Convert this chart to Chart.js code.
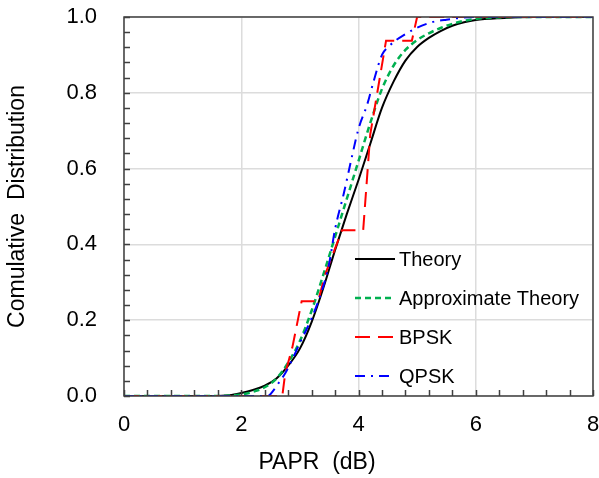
<!DOCTYPE html>
<html>
<head>
<meta charset="utf-8">
<script src="https://cdn.jsdelivr.net/npm/chart.js@4.4.1/dist/chart.umd.min.js"></script>
<style>
  body { margin: 0; background: #fff; }
  canvas { display: block; }
</style>
</head>
<body>
<canvas id="paprChart" width="599" height="478"></canvas>
<script>
// PAPR values in dB and cumulative distribution
const theoryX = [0, 1.5, 1.8, 2.0, 2.2, 2.4, 2.6, 2.8, 3.0, 3.2, 3.4, 3.6, 3.8, 4.0, 4.2, 4.4, 4.6, 4.8, 5.0, 5.2, 5.4, 5.6, 5.8, 6.0, 6.4, 7.0, 8.0];
const theoryY = [0, 0, 0.002, 0.008, 0.016, 0.027, 0.046, 0.08, 0.125, 0.195, 0.285, 0.385, 0.48, 0.57, 0.665, 0.76, 0.83, 0.885, 0.921, 0.945, 0.963, 0.977, 0.986, 0.992, 0.997, 1.0, 1.0];

const approxX = [0, 1.5, 1.8, 2.0, 2.2, 2.4, 2.6, 2.8, 3.0, 3.2, 3.4, 3.6, 3.8, 4.0, 4.2, 4.4, 4.6, 4.8, 5.0, 5.2, 5.4, 5.6, 5.8, 6.0, 6.4, 7.0, 8.0];
const approxY = [0, 0, 0.001, 0.004, 0.011, 0.023, 0.046, 0.088, 0.145, 0.225, 0.32, 0.42, 0.52, 0.62, 0.72, 0.81, 0.872, 0.913, 0.939, 0.957, 0.971, 0.982, 0.99, 0.995, 0.999, 1.0, 1.0];

const bpskX = [0, 2.7, 2.75, 2.87, 3.03, 3.31, 3.43, 3.72, 4.08, 4.2, 4.47, 4.91, 5.0, 8.0];
const bpskY = [0, 0, 0.06, 0.127, 0.25, 0.25, 0.32, 0.4375, 0.4375, 0.69, 0.9375, 0.9375, 1.0, 1.0];

const qpskX = [0, 2.45, 2.55, 2.65, 2.75, 2.85, 3.0, 3.2, 3.4, 3.5, 3.6, 3.75, 3.9, 4.0, 4.15, 4.25, 4.4, 4.5, 4.8, 5.2, 5.5, 6.0, 8.0];
const qpskY = [0, 0, 0.015, 0.037, 0.06, 0.09, 0.14, 0.205, 0.29, 0.35, 0.44, 0.535, 0.64, 0.705, 0.77, 0.826, 0.9, 0.92, 0.955, 0.984, 0.993, 1.0, 1.0];

const seriesNames = ['Theory', 'Approximate Theory', 'BPSK', 'QPSK'];
const xTickValues = [0, 2, 4, 6, 8];
const yTickValues = [0, 0.2, 0.4, 0.6, 0.8, 1.0];

const FONT = '"Liberation Sans", Arial, sans-serif';

function toPoints(xs, ys) {
    return xs.map((x, i) => ({ x: x, y: ys[i] }));
}

// frame, inside minor ticks, legend box inside the plot and the x title
const extras = {
    id: 'extras',
    afterDatasetsDraw(chart) {
        const ctx = chart.ctx;
        const a = chart.chartArea;
        const xs = chart.scales.x;
        const ys = chart.scales.y;
        ctx.save();

        ctx.strokeStyle = '#404040';
        ctx.lineWidth = 1.5;
        ctx.beginPath();
        for (let i = 0; i <= 20; i++) {
            const px = Math.round(xs.getPixelForValue(i * 0.4)) + 0.5;
            ctx.moveTo(px, a.bottom);
            ctx.lineTo(px, a.bottom - 6);
        }
        for (let i = 0; i <= 25; i++) {
            const py = Math.round(ys.getPixelForValue(i * 0.04)) + 0.5;
            ctx.moveTo(a.left, py);
            ctx.lineTo(a.left + 6, py);
        }
        ctx.stroke();
        ctx.strokeRect(a.left, a.top, a.right - a.left, a.bottom - a.top);

        // legend
        const rowY = [259, 298, 337, 376];
        ctx.font = '20px ' + FONT;
        ctx.textBaseline = 'middle';
        ctx.textAlign = 'left';
        chart.data.datasets.forEach((ds, i) => {
            ctx.strokeStyle = ds.borderColor;
            ctx.lineWidth = ds.borderWidth;
            ctx.setLineDash(ds.borderDash || []);
            ctx.beginPath();
            ctx.moveTo(355, rowY[i]);
            ctx.lineTo(395, rowY[i]);
            ctx.stroke();
            ctx.setLineDash([]);
            ctx.fillStyle = '#000';
            ctx.fillText(ds.label, 399, rowY[i] + 1);
        });

        ctx.font = '23px ' + FONT;
        ctx.textAlign = 'center';
        ctx.fillText('PAPR  (dB)', 317, 463);
        ctx.restore();
    }
};

new Chart(document.getElementById('paprChart'), {
    type: 'line',
    data: {
        datasets: [
            {
                label: seriesNames[0],
                data: toPoints(theoryX, theoryY),
                borderColor: '#000000',
                borderWidth: 2,
                cubicInterpolationMode: 'monotone',
                order: 4
            },
            {
                label: seriesNames[1],
                data: toPoints(approxX, approxY),
                borderColor: '#00b050',
                borderWidth: 2.5,
                borderDash: [6, 4],
                cubicInterpolationMode: 'monotone',
                order: 3
            },
            {
                label: seriesNames[2],
                data: toPoints(bpskX, bpskY),
                borderColor: '#ff0000',
                borderWidth: 2,
                borderDash: [15, 8],
                order: 2
            },
            {
                label: seriesNames[3],
                data: toPoints(qpskX, qpskY),
                borderColor: '#0000ff',
                borderWidth: 2,
                borderDash: [10, 6, 2, 6],
                cubicInterpolationMode: 'monotone',
                order: 1
            }
        ]
    },
    options: {
        responsive: false,
        animation: false,
        elements: { point: { radius: 0 } },
        layout: { autoPadding: false, padding: { left: 0, top: 17, right: 6, bottom: 0 } },
        plugins: {
            legend: { display: false },
            tooltip: { enabled: false }
        },
        scales: {
            x: {
                type: 'linear',
                min: 0,
                max: 8,
                afterFit: (scale) => {
                    scale.height = 82;
                    scale.paddingLeft = 0;
                    scale.paddingRight = 0;
                },
                afterBuildTicks: (scale) => { scale.ticks = xTickValues.map(v => ({ value: v })); },
                ticks: {
                    color: '#000',
                    font: { family: FONT, size: 22 },
                    padding: 16,
                    maxRotation: 0,
                    callback: (v) => String(v)
                },
                grid: { color: '#dcdcdc', lineWidth: 1.5, drawTicks: false },
                border: { display: false }
            },
            y: {
                type: 'linear',
                min: 0,
                max: 1,
                afterFit: (scale) => {
                    scale.width = 124;
                    scale.paddingTop = 0;
                    scale.paddingBottom = 0;
                },
                afterBuildTicks: (scale) => { scale.ticks = yTickValues.map(v => ({ value: v })); },
                ticks: {
                    color: '#000',
                    font: { family: FONT, size: 22 },
                    padding: 27,
                    callback: (v) => Number(v).toFixed(1)
                },
                grid: { color: '#dcdcdc', lineWidth: 1.5, drawTicks: false },
                border: { display: false },
                title: {
                    display: true,
                    text: 'Comulative  Distribution',
                    color: '#000',
                    font: { family: FONT, size: 23 },
                    padding: { top: 4, bottom: 0 }
                }
            }
        }
    },
    plugins: [extras]
});
</script>
</body>
</html>
